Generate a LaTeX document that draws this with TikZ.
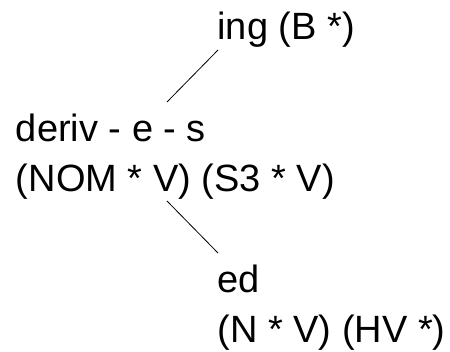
\documentclass[tikz,border=0pt]{standalone}
\usepackage{fontspec}
\setmainfont{Liberation Sans}
\usetikzlibrary{calc}
\begin{document}
\begin{tikzpicture}[x=1pt,y=-1pt,
  lbl/.style={inner sep=0pt,outer sep=0pt,align=left,anchor=base west,
    font=\fontsize{38}{50}\selectfont},
  link/.style={line width=0.8pt}]
\useasboundingbox (0,0) rectangle (450,352);
\node[lbl] (ing) at (217.5,40) {ing (B *)};
\node[lbl] (deriv) at (16,192) {deriv - e - s\\(NOM * V) (S3 * V)};
\node[lbl] (ed) at (217.5,343) {ed\\(N * V) (HV *)};
\coordinate (a1) at ($(ing.base west)+(0.5,10)$);
\coordinate (a2) at ($(deriv.base west)+(151,-90)$);
\coordinate (b1) at ($(deriv.base west)+(151,9)$);
\coordinate (b2) at ($(ed.base west)+(0.5,-90)$);
\draw[link] (a2) -- (a1);
\draw[link] (b1) -- (b2);
\end{tikzpicture}
\end{document}
